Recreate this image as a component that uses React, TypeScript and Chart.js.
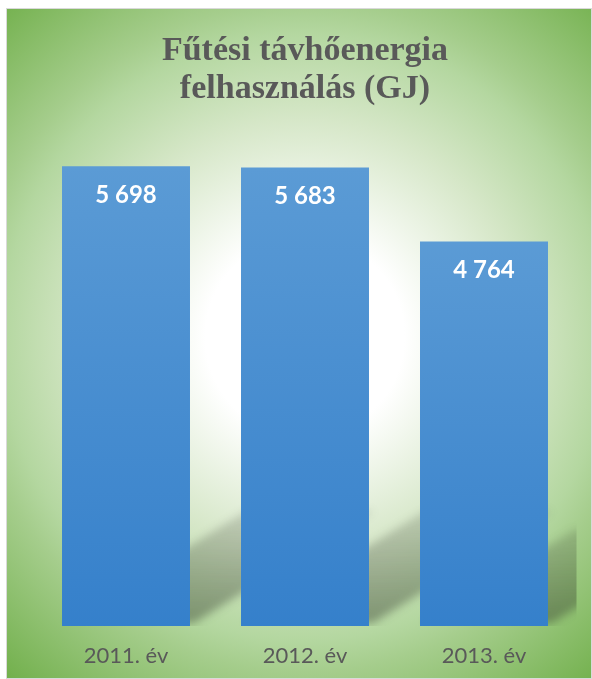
import React, { useEffect, useRef } from "react";
import { Chart, registerables } from "chart.js";

Chart.register(...registerables);

const categories: string[] = ["2011. év", "2012. év", "2013. év"];
const values: number[] = [5698, 5683, 4764];
const titleLines: string[] = ["Fűtési távhőenergia", "felhasználás (GJ)"];
const yMin = 0;
const yMax = 6000;

const fmt = (v: number) => String(v).replace(/\B(?=(\d{3})+(?!\d))/g, " ");

const shadowPlugin = {
  id: "barShadow",
  beforeDatasetsDraw(chart: any) {
    const meta = chart.getDatasetMeta(0);
    const area = chart.chartArea;
    const ctx = chart.ctx;
    ctx.save();
    ctx.beginPath();
    ctx.rect(area.left, area.top, area.right - area.left + 3, area.bottom - area.top);
    ctx.clip();
    ctx.filter = "blur(4px)";
    meta.data.forEach((bar: any) => {
      const x0 = bar.x - bar.width / 2;
      const x1 = bar.x + bar.width / 2;
      const bottom = bar.base;
      const h = bottom - bar.y;
      const a = 0.4;
      const b = 0.25;
      const g = ctx.createLinearGradient(0, bottom, 0, bottom - b * h);
      g.addColorStop(0, "rgba(45,50,40,0.42)");
      g.addColorStop(1, "rgba(45,50,40,0.16)");
      ctx.fillStyle = g;
      ctx.beginPath();
      ctx.moveTo(x0 + 4, bottom - 3);
      ctx.lineTo(x1 + 4, bottom - 3);
      ctx.lineTo(x1 + a * h, bottom - b * h);
      ctx.lineTo(x0 + a * h, bottom - b * h);
      ctx.closePath();
      ctx.fill();
    });
    ctx.restore();
  },
};

const valueLabelPlugin = {
  id: "valueLabels",
  afterDatasetsDraw(chart: any) {
    const meta = chart.getDatasetMeta(0);
    const ctx = chart.ctx;
    ctx.save();
    ctx.fillStyle = "#ffffff";
    ctx.font = "bold 24px Lato";
    ctx.textAlign = "center";
    ctx.textBaseline = "middle";
    meta.data.forEach((bar: any, i: number) => {
      const v = chart.data.datasets[0].data[i] as number;
      ctx.fillText(fmt(v), bar.x, bar.y + 29);
    });
    ctx.restore();
  },
};

export default function App() {
  const canvasRef = useRef<HTMLCanvasElement | null>(null);

  useEffect(() => {
    if (!canvasRef.current) return;
    const chart = new Chart(canvasRef.current, {
      type: "bar",
      data: {
        labels: categories,
        datasets: [
          {
            data: values,
            backgroundColor: (context: any) => {
              const c = context.chart;
              const area = c.chartArea;
              if (!area) return "#4a8fd2";
              const yScale = c.scales.y;
              const top = yScale.getPixelForValue(context.raw as number);
              const bottom = yScale.getPixelForValue(0);
              const g = c.ctx.createLinearGradient(0, top, 0, bottom);
              g.addColorStop(0, "#5b9bd5");
              g.addColorStop(1, "#3580cb");
              return g;
            },
            borderWidth: 0,
            categoryPercentage: 1,
            barPercentage: 0.715,
          },
        ],
      },
      options: {
        animation: false,
        responsive: true,
        maintainAspectRatio: false,
        layout: { padding: { top: 0, left: 29.5, right: 17.5, bottom: -8.4 } },
        plugins: {
          legend: { display: false },
          tooltip: { enabled: false },
          title: {
            display: true,
            text: titleLines,
            color: "#595959",
            font: { family: "'Liberation Serif', 'Times New Roman', serif", size: 34, weight: "bold", lineHeight: 1.12 },
            padding: { top: 23.5, bottom: 33.2 },
          },
        },
        scales: {
          x: {
            grid: { display: false, drawTicks: false },
            border: { display: false },
            ticks: {
              color: "#595959",
              font: { family: "Lato", size: 22 },
              padding: 17,
            },
          },
          y: { display: false, min: yMin, max: yMax },
        },
      },
      plugins: [shadowPlugin, valueLabelPlugin],
    });
    return () => chart.destroy();
  }, []);

  return (
    <div
      style={{
        position: "fixed",
        left: 6,
        top: 8,
        width: 586,
        height: 671,
        boxSizing: "border-box",
        border: "1px solid #d9d9d9",
        background:
          "radial-gradient(circle farthest-corner at 51% 49%, #ffffff 0%, #ffffff 22%, #d6e7c8 48%, #b4d7a0 67%, #a5cd8c 74%, #72b04c 100%)",
      }}
    >
      <div style={{ position: "relative", width: "100%", height: "100%" }}>
        <canvas ref={canvasRef} />
      </div>
    </div>
  );
}
